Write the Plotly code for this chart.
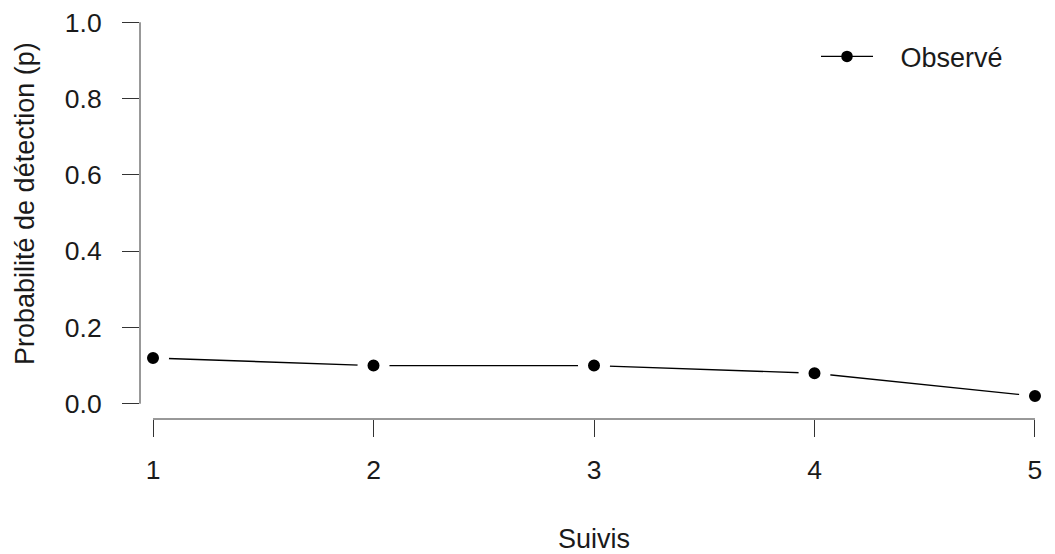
import plotly.graph_objects as go

suivis = [1, 2, 3, 4, 5]
p_obs = [0.12, 0.10, 0.10, 0.08, 0.02]
y_ticks = [0.0, 0.2, 0.4, 0.6, 0.8, 1.0]
y_tick_text = ["0.0", "0.2", "0.4", "0.6", "0.8", "1.0"]
x_ticks = [1, 2, 3, 4, 5]
series_name = "Observé"
x_title = "Suivis"
y_title = "Probabilité de détection (p)"

FONT = "Liberation Sans, Arial, Helvetica, sans-serif"
TXT = "#1a1a1a"
AX = "#333333"

fig = go.Figure()
fig.add_trace(go.Scatter(
    x=suivis, y=p_obs, mode="lines+markers",
    name="\u00a0\u00a0\u00a0" + series_name,
    line=dict(color="black", width=1.4),
    marker=dict(color="black", size=11.5),
    showlegend=True,
))
# white rings to reproduce R's type="b" gaps between points and lines
fig.add_trace(go.Scatter(
    x=suivis, y=p_obs, mode="markers",
    marker=dict(color="black", size=22, line=dict(color="white", width=10)),
    showlegend=False, hoverinfo="skip",
))

fig.update_layout(
    width=1055, height=554,
    margin=dict(l=140, r=7, t=7, b=135, autoexpand=False),
    paper_bgcolor="white", plot_bgcolor="white",
    font=dict(family=FONT, size=26.5, color=TXT),
    legend=dict(x=0.7445, y=0.879, xanchor="left", yanchor="middle",
                bgcolor="rgba(0,0,0,0)", font=dict(size=27, color=TXT),
                itemwidth=52),
    shapes=[
        dict(type="line", xref="paper", yref="y", x0=0, x1=0,
             y0=min(y_ticks), y1=max(y_ticks), line=dict(color=AX, width=1)),
        dict(type="line", xref="x", yref="paper", y0=0, y1=0,
             x0=min(x_ticks), x1=max(x_ticks), line=dict(color=AX, width=1)),
    ],
    annotations=[
        dict(text=y_title, xref="paper", yref="paper",
             x=(25 - 140) / 908, y=(419 - 204) / 412,
             xanchor="center", yanchor="middle", textangle=-90,
             showarrow=False, font=dict(size=27, color=TXT)),
    ],
)
fig.update_xaxes(
    range=[0.941, 5.059], tickvals=x_ticks, ticktext=[str(v) for v in x_ticks],
    ticks="outside", ticklen=17, tickcolor=AX, tickwidth=1,
    showgrid=False, zeroline=False, showline=False,
    ticklabelstandoff=10, automargin=False,
    title=dict(text=x_title, standoff=46, font=dict(size=27, color=TXT)),
)
fig.update_yaxes(
    range=[-0.04, 1.04], tickvals=y_ticks, ticktext=y_tick_text,
    ticks="outside", ticklen=17, tickcolor=AX, tickwidth=1,
    showgrid=False, zeroline=False, showline=False,
    ticklabelstandoff=15, automargin=False,
)

fig.write_html("out.html")
